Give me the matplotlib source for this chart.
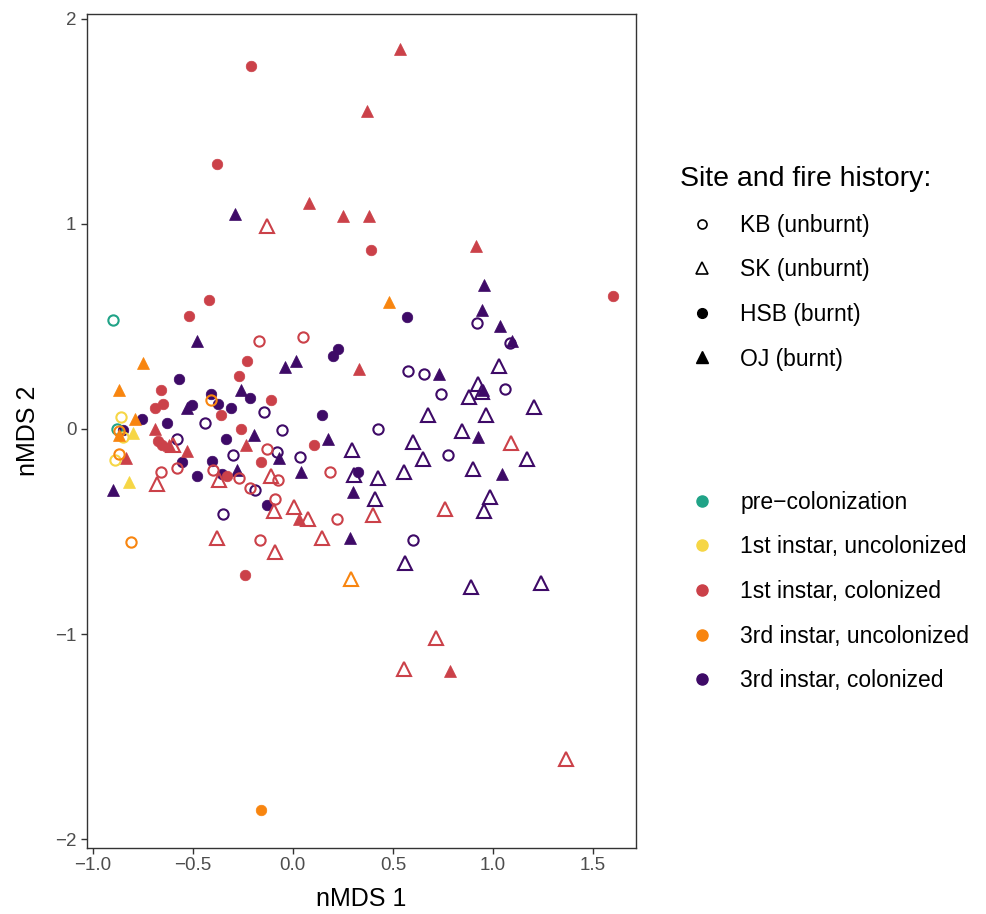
import matplotlib
matplotlib.use("Agg")
import matplotlib.pyplot as plt
from matplotlib.lines import Line2D

plt.rcParams['font.family'] = ['Liberation Sans', 'DejaVu Sans']

# nMDS scores per sampling stage: (nMDS 1, nMDS 2, site)
pre_colonization = [
    (-0.90, 0.53, "KB"), (-0.88, -0.00, "KB"),
]
first_uncolonized = [
    (-0.86, 0.06, "KB"), (-0.85, -0.04, "KB"), (-0.89, -0.15, "KB"),
    (-0.80, -0.02, "OJ"), (-0.82, -0.26, "OJ"),
]
first_colonized = [
    # HSB
    (-0.21, 1.77, "HSB"), (-0.38, 1.29, "HSB"), (0.39, 0.87, "HSB"), (1.60, 0.65, "HSB"),
    (-0.42, 0.63, "HSB"), (-0.52, 0.55, "HSB"), (-0.23, 0.33, "HSB"), (-0.27, 0.26, "HSB"),
    (-0.66, 0.19, "HSB"), (-0.11, 0.14, "HSB"), (-0.36, 0.07, "HSB"), (-0.65, 0.12, "HSB"),
    (-0.69, 0.10, "HSB"), (-0.26, 0.00, "HSB"), (-0.675, -0.06, "HSB"), (-0.655, -0.08, "HSB"),
    (-0.16, -0.16, "HSB"), (-0.33, -0.23, "HSB"), (0.105, -0.08, "HSB"), (-0.24, -0.71, "HSB"),
    # OJ
    (0.535, 1.85, "OJ"), (0.37, 1.55, "OJ"), (0.08, 1.10, "OJ"), (0.25, 1.04, "OJ"),
    (0.38, 1.04, "OJ"), (0.915, 0.89, "OJ"), (0.33, 0.29, "OJ"), (-0.69, 0.00, "OJ"),
    (-0.62, -0.08, "OJ"), (-0.53, -0.11, "OJ"), (-0.235, -0.08, "OJ"), (-0.835, -0.14, "OJ"),
    (0.03, -0.44, "OJ"), (0.785, -1.18, "OJ"),
    # KB
    (-0.17, 0.43, "KB"), (0.05, 0.45, "KB"), (-0.13, -0.10, "KB"), (-0.66, -0.21, "KB"),
    (-0.58, -0.19, "KB"), (-0.40, -0.20, "KB"), (-0.27, -0.24, "KB"), (-0.075, -0.25, "KB"),
    (-0.215, -0.29, "KB"), (-0.09, -0.34, "KB"), (0.185, -0.21, "KB"), (0.22, -0.44, "KB"),
    (-0.165, -0.54, "KB"),
    # SK
    (-0.13, 0.99, "SK"), (-0.60, -0.08, "SK"), (-0.68, -0.27, "SK"), (-0.37, -0.25, "SK"),
    (-0.11, -0.23, "SK"), (-0.095, -0.40, "SK"), (0.005, -0.38, "SK"), (0.075, -0.44, "SK"),
    (0.145, -0.53, "SK"), (0.40, -0.42, "SK"), (-0.38, -0.53, "SK"), (-0.09, -0.60, "SK"),
    (0.76, -0.39, "SK"), (1.09, -0.07, "SK"), (0.715, -1.02, "SK"), (0.555, -1.17, "SK"),
    (1.365, -1.61, "SK"),
]
third_uncolonized = [
    (0.48, 0.62, "OJ"), (-0.75, 0.32, "OJ"), (-0.87, 0.19, "OJ"), (-0.79, 0.05, "OJ"),
    (-0.87, -0.03, "OJ"),
    (-0.41, 0.14, "KB"), (-0.87, -0.01, "KB"), (-0.87, -0.12, "KB"), (-0.81, -0.55, "KB"),
    (0.29, -0.73, "SK"),
    (-0.16, -1.86, "HSB"),
]
third_colonized = [
    # OJ
    (-0.29, 1.05, "OJ"), (0.955, 0.70, "OJ"), (-0.48, 0.43, "OJ"), (-0.04, 0.30, "OJ"),
    (0.015, 0.33, "OJ"), (-0.26, 0.19, "OJ"), (-0.53, 0.10, "OJ"), (-0.195, -0.03, "OJ"),
    (-0.07, -0.14, "OJ"), (-0.28, -0.20, "OJ"), (0.04, -0.21, "OJ"), (-0.90, -0.30, "OJ"),
    (0.175, -0.05, "OJ"), (0.30, -0.31, "OJ"), (0.285, -0.53, "OJ"), (0.945, 0.58, "OJ"),
    (1.035, 0.50, "OJ"), (1.095, 0.43, "OJ"), (0.73, 0.27, "OJ"), (0.95, 0.19, "OJ"),
    (0.925, -0.04, "OJ"), (1.045, -0.22, "OJ"),
    # HSB
    (0.57, 0.545, "HSB"), (0.225, 0.39, "HSB"), (0.20, 0.355, "HSB"), (-0.57, 0.245, "HSB"),
    (-0.41, 0.17, "HSB"), (-0.215, 0.15, "HSB"), (-0.375, 0.12, "HSB"), (-0.31, 0.10, "HSB"),
    (-0.505, 0.115, "HSB"), (-0.63, 0.03, "HSB"), (-0.755, 0.05, "HSB"), (-0.335, -0.05, "HSB"),
    (-0.555, -0.16, "HSB"), (-0.405, -0.155, "HSB"), (-0.48, -0.23, "HSB"), (-0.355, -0.22, "HSB"),
    (-0.13, -0.37, "HSB"), (0.145, 0.07, "HSB"), (0.325, -0.21, "HSB"), (-0.85, -0.005, "HSB"),
    # KB
    (0.92, 0.515, "KB"), (1.085, 0.42, "KB"), (0.575, 0.28, "KB"), (0.655, 0.27, "KB"),
    (0.74, 0.17, "KB"), (1.06, 0.195, "KB"), (-0.145, 0.08, "KB"), (-0.44, 0.03, "KB"),
    (-0.055, -0.005, "KB"), (-0.58, -0.05, "KB"), (0.425, 0.00, "KB"), (-0.30, -0.125, "KB"),
    (-0.08, -0.115, "KB"), (0.035, -0.135, "KB"), (0.775, -0.125, "KB"), (-0.19, -0.30, "KB"),
    (-0.35, -0.415, "KB"), (0.60, -0.54, "KB"),
    # SK
    (0.675, 0.07, "SK"), (0.60, -0.065, "SK"), (0.295, -0.105, "SK"), (0.65, -0.145, "SK"),
    (0.305, -0.225, "SK"), (0.425, -0.24, "SK"), (0.555, -0.21, "SK"), (0.41, -0.34, "SK"),
    (0.56, -0.655, "SK"), (1.03, 0.305, "SK"), (0.925, 0.22, "SK"), (0.945, 0.18, "SK"),
    (0.88, 0.155, "SK"), (1.205, 0.105, "SK"), (0.965, 0.07, "SK"), (0.845, -0.01, "SK"),
    (1.17, -0.145, "SK"), (0.90, -0.195, "SK"), (0.985, -0.33, "SK"), (0.955, -0.40, "SK"),
    (0.89, -0.77, "SK"), (1.24, -0.75, "SK"),
]

stage_labels = ["pre\u2212colonization", "1st instar, uncolonized", "1st instar, colonized",
                "3rd instar, uncolonized", "3rd instar, colonized"]
stage_colors = ["#20A387", "#F6D645", "#CB4149", "#F8850F", "#3E0A67"]
site_labels = ["KB (unburnt)", "SK (unburnt)", "HSB (burnt)", "OJ (burnt)"]

# shape, filled
site_style = {"KB": ("o", False), "SK": ("^", False), "HSB": ("o", True), "OJ": ("^", True)}

fig = plt.figure(figsize=(9.86, 9.14), dpi=100)
ax = fig.add_axes([0.088, 0.072, 0.557, 0.913])

stages = [third_colonized, first_colonized, pre_colonization, first_uncolonized, third_uncolonized]
colors = [stage_colors[4], stage_colors[2], stage_colors[0], stage_colors[1], stage_colors[3]]
for pts, col in zip(stages, colors):
    for site in ["KB", "SK", "HSB", "OJ"]:
        sel = [p for p in pts if p[2] == site]
        if not sel:
            continue
        xs = [p[0] for p in sel]
        ys = [p[1] for p in sel]
        marker, filled = site_style[site]
        if filled:
            ms = 7.6 if marker == "o" else 9.2
            ax.plot(xs, ys, ls="none", marker=marker, ms=ms, mfc=col, mec=col, mew=0.5)
        else:
            ms = 7.4 if marker == "o" else 9.4
            ax.plot(xs, ys, ls="none", marker=marker, ms=ms, mfc="none", mec=col, mew=1.5)

ax.set_xlim(-1.03, 1.715)
ax.set_ylim(-2.044, 2.024)
ax.set_xticks([-1.0, -0.5, 0.0, 0.5, 1.0, 1.5])
ax.set_xticklabels(["\u22121.0", "\u22120.5", "0.0", "0.5", "1.0", "1.5"])
ax.set_yticks([-2, -1, 0, 1, 2])
ax.set_yticklabels(["\u22122", "\u22121", "0", "1", "2"])
ax.tick_params(colors="#333333", labelcolor="#4D4D4D", labelsize=13.5, length=4, width=1)
ax.tick_params(axis="x", pad=2)
for sp in ax.spines.values():
    sp.set_color("#333333")
    sp.set_linewidth(1.0)
ax.set_xlabel("nMDS 1", fontsize=18, labelpad=10)
ax.set_ylabel("nMDS 2", fontsize=18, labelpad=11)

site_handles = [
    Line2D([], [], ls="none", marker="o", ms=6.5, mfc="none", mec="black", mew=1.2),
    Line2D([], [], ls="none", marker="^", ms=8.5, mfc="none", mec="black", mew=1.2),
    Line2D([], [], ls="none", marker="o", ms=7.0, mfc="black", mec="black"),
    Line2D([], [], ls="none", marker="^", ms=8.5, mfc="black", mec="black"),
]
leg1 = fig.legend(site_handles, site_labels, title="Site and fire history:",
                  loc="upper left", bbox_to_anchor=(0.69, 0.818), frameon=False,
                  fontsize=16.5, title_fontsize=20.5, alignment="left",
                  labelspacing=0.94, handlelength=1.92, handletextpad=0.7,
                  borderpad=0, borderaxespad=0)

stage_handles = [Line2D([], [], ls="none", marker="o", ms=8, mfc=c, mec=c) for c in stage_colors]
leg2 = fig.legend(stage_handles, stage_labels, loc="upper left",
                  bbox_to_anchor=(0.69, 0.463), frameon=False, fontsize=16.5,
                  labelspacing=0.945, handlelength=1.92, handletextpad=0.7,
                  borderpad=0, borderaxespad=0)

fig.savefig("out.png", dpi=100)
